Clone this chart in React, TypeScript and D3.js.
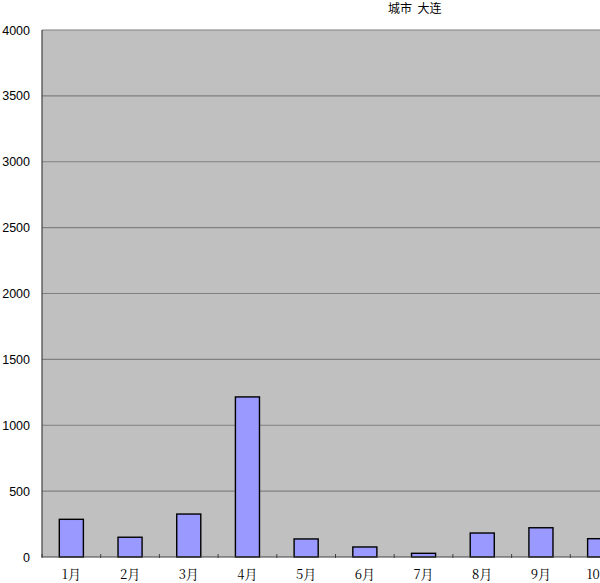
import { useEffect, useRef } from "react";
import * as d3 from "d3";

const months = ["1月", "2月", "3月", "4月", "5月", "6月", "7月", "8月", "9月", "10月", "11月", "12月"];
const values = [286, 150, 326, 1215, 137, 76, 28, 182, 222, 139];
const yTicks = [0, 500, 1000, 1500, 2000, 2500, 3000, 3500, 4000];
const title = "城市\u00a0\u00a0大连";

const W = 600;
const H = 583;
const PAD = { top: 30, left: 42, bottom: 26 };
const BAND = 58.7;

export default function App() {
  const svgRef = useRef<SVGSVGElement>(null);

  useEffect(() => {
    const svg = d3.select(svgRef.current);
    if (!svg.node()) return;
    svg.selectAll("*").remove();

    const right = PAD.left + BAND * months.length;
    const x = d3.scaleBand().domain(months).range([PAD.left, right]).paddingInner(0.59).paddingOuter(0.295);
    const y = d3.scaleLinear().domain([0, 4000]).range([H - PAD.bottom, PAD.top]);

    svg
      .append("rect")
      .attr("x", PAD.left)
      .attr("y", PAD.top)
      .attr("width", right - PAD.left)
      .attr("height", y(0) - PAD.top)
      .attr("fill", "#c0c0c0");

    svg
      .append("g")
      .selectAll("line")
      .data(yTicks.slice(1))
      .enter()
      .append("line")
      .attr("x1", PAD.left)
      .attr("x2", right)
      .attr("y1", (d) => y(d))
      .attr("y2", (d) => y(d))
      .attr("stroke", "#808080")
      .attr("stroke-width", 1.2);

    svg
      .append("g")
      .selectAll("text")
      .data(yTicks)
      .enter()
      .append("text")
      .attr("x", 30)
      .attr("y", (d) => y(d) + 4.5)
      .attr("text-anchor", "end")
      .style("font-family", "Arial, 'Liberation Sans', sans-serif")
      .style("font-size", "12.5px")
      .style("fill", "#000")
      .text((d) => d);

    svg
      .append("g")
      .selectAll("rect")
      .data(values)
      .enter()
      .append("rect")
      .attr("x", (_d, i) => x(months[i])!)
      .attr("width", x.bandwidth())
      .attr("y", (d) => y(d))
      .attr("height", (d) => y(0) - y(d))
      .attr("fill", "#9999ff")
      .attr("stroke", "#000")
      .attr("stroke-width", 1.4);

    // axes
    svg
      .append("line")
      .attr("x1", PAD.left)
      .attr("x2", PAD.left)
      .attr("y1", PAD.top)
      .attr("y2", y(0))
      .attr("stroke", "#404040")
      .attr("stroke-width", 1.2);
    svg
      .append("line")
      .attr("x1", PAD.left)
      .attr("x2", right)
      .attr("y1", y(0))
      .attr("y2", y(0))
      .attr("stroke", "#404040")
      .attr("stroke-width", 1.2);
    svg
      .append("g")
      .selectAll("line")
      .data(d3.range(months.length + 1))
      .enter()
      .append("line")
      .attr("x1", (i) => PAD.left + i * BAND)
      .attr("x2", (i) => PAD.left + i * BAND)
      .attr("y1", y(0) - 3)
      .attr("y2", y(0) + 1)
      .attr("stroke", "#404040");

    svg
      .append("g")
      .selectAll("text")
      .data(months)
      .enter()
      .append("text")
      .attr("x", (d) => x(d)! + x.bandwidth() / 2)
      .attr("y", 579)
      .attr("text-anchor", "middle")
      .style("font-family", "'Noto Serif CJK SC', 'Noto Sans CJK SC', serif")
      .style("font-size", "13px")
      .style("fill", "#000")
      .text((d) => d);

    svg
      .append("text")
      .attr("x", 388)
      .attr("y", 13)
      .style("font-family", "'Noto Sans CJK SC', sans-serif")
      .style("font-size", "12px")
      .style("fill", "#000")
      .text(title);
  }, []);

  return (
    <svg
      ref={svgRef}
      width={W}
      height={H}
      style={{ position: "absolute", left: 0, top: 0, background: "#fff" }}
    />
  );
}
